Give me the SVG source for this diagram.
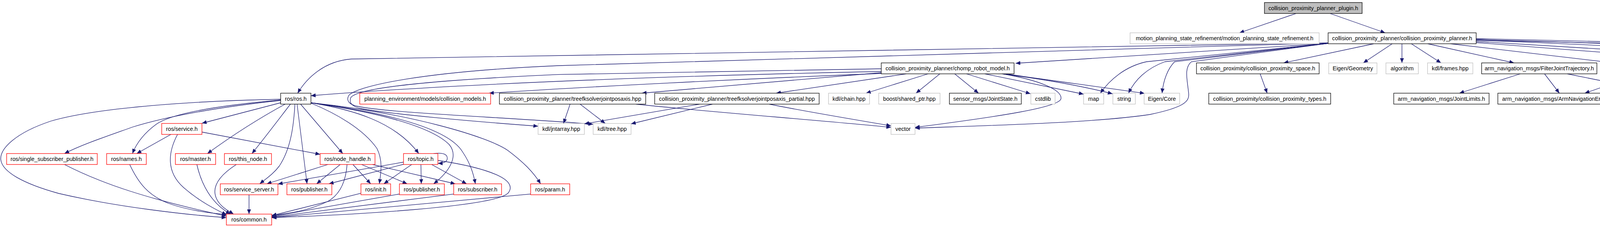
<svg xmlns="http://www.w3.org/2000/svg" width="5463" height="581" viewBox="0 0 5463 581">
<style>
.n rect{fill:#ffffff;stroke-width:1.3}
.b rect{stroke:#000000}
.g rect{stroke:#bfbfbf}
.r rect{stroke:#ff0000}
.root rect{fill:#bfbfbf;stroke:#000000}
.n text{font-family:"Liberation Sans",Arial,sans-serif;font-size:14.3px;fill:#000000;text-anchor:middle}
#edges path{fill:none;stroke:#191970;stroke-width:1.3;marker-end:url(#a)}
</style>
<defs>
<marker id="a" markerUnits="userSpaceOnUse" markerWidth="12" markerHeight="10" viewBox="0 0 12 10" refX="12" refY="5" orient="auto"><path d="M0,0 L12,5 L0,10 z" fill="#191970"/></marker>
</defs>
<rect width="5463" height="581" fill="#ffffff"/>
<g id="edges">
<path d="M3318,34.5 L3173,84"/>
<path d="M3405,34.5 L3546,84"/>
<path d="M3400,111 L2600,162"/>
<path d="M3400,110 L900,151 C830,156 785,200 762,238.5"/>
<path d="M3400,110 L1430,168 C1080,183 915,220 893,244 C885,258 895,268 915,272 C1000,290 1300,300 1518.5,318"/>
<path d="M2256,176 L1430,190.7 C1040,208 910,230 898,250 C892,265 905,274 925,278 C1000,292 1200,310 1377.5,323"/>
<path d="M2256,183 C1800,192 1200,212 796,245"/>
<path d="M2256,188 C1900,202 1500,222 1252,238.5"/>
<path d="M2256,186 L1643,238.5"/>
<path d="M2320,189 L1987,238.5"/>
<path d="M2376,189 L2217,238.5"/>
<path d="M2406,189 L2345,238.5"/>
<path d="M2444,189 L2505,238.5"/>
<path d="M2474,189 L2638,240"/>
<path d="M2521,189 L2774,241"/>
<path d="M2565,189 C2650,200 2750,215 2848,240"/>
<path d="M2575,189 C2680,205 2800,220 2930,239"/>
<path d="M2566,189 C2660,205 2720,230 2716,253 C2710,275 2560,298 2342.5,326"/>
<path d="M3400,111 L2935,158 C2880,170 2840,205 2817,238.5"/>
<path d="M3400,111 L2982,158 C2935,175 2905,205 2889,238.5"/>
<path d="M3400,111 L3007,158 C2990,175 2978,205 2975,238.5"/>
<path d="M3400,111 L3050,158 C3030,175 3040,205 3043,240 C3045,260 3030,275 2944,293 C2800,315 2500,322 2342.5,328"/>
<path d="M3517,112 L3286,161"/>
<path d="M3564,112 L3490,161"/>
<path d="M3589,112 L3589,161"/>
<path d="M3613,112 L3689,161"/>
<path d="M3655,112 L3876,161"/>
<path d="M3713,112 L4131,161"/>
<path d="M3779,106 L4140,128 C4300,140 4395,150 4400,172 C4405,195 4380,215 4350,238.5"/>
<path d="M3779,109 L4455,161"/>
<path d="M3779,103 L4140,111 C4500,130 4740,145 4755,172 C4765,195 4720,220 4676,238.5"/>
<path d="M3779,103 C4200,118 4600,145 4814.5,161"/>
<path d="M3779,101 C4300,115 4800,140 5070.5,161"/>
<path d="M3779,99 C4400,112 5100,135 5337,161"/>
<path d="M4200,189 L4057,238.5"/>
<path d="M4263,189 L4312,238.5"/>
<path d="M4319,189 L4566,238.5"/>
<path d="M3892,189 L3736,238.5"/>
<path d="M3954,189 L3992,238.5"/>
<path d="M4012,189 L4258,238.5"/>
<path d="M4546,189 L4377,238.5"/>
<path d="M4606,189 L4627,238.5"/>
<path d="M4323,266.5 L4318,316"/>
<path d="M4638,266.5 L4644,316"/>
<path d="M4930,189 L4930,238.5"/>
<path d="M3226,189 L3244,238.5"/>
<path d="M1459.5,266.5 L1442.5,316"/>
<path d="M1485,266.5 L1549.5,316"/>
<path d="M1628,266.5 C1800,285 2100,308 2281,326"/>
<path d="M1969,266.5 C2050,283 2180,305 2281,322"/>
<path d="M1791,266.5 L1496,317"/>
<path d="M1824,266.5 L1615.5,317"/>
<path d="M718.5,254 C500,258 250,275 130,310 C40,340 0,380 2,408 C5,440 60,470 150,495 C300,530 480,550 579.5,557"/>
<path d="M718.5,256 C560,270 440,290 400,318 C370,340 350,365 339,393"/>
<path d="M718.5,257 C550,275 420,300 340,325 C270,350 210,370 165,393"/>
<path d="M718.5,263 L517,315.5"/>
<path d="M730,266.5 C650,310 590,350 531,393"/>
<path d="M743.5,266.5 C710,310 680,350 645,393"/>
<path d="M755,266.5 C752,320 745,380 715,425 C700,445 680,458 665,470.5"/>
<path d="M760.5,266.5 L786,470.5"/>
<path d="M769.5,266.5 L877.5,393"/>
<path d="M796,264 C860,290 930,330 965,380 C980,410 976,440 971,470.5"/>
<path d="M796,263 C900,280 1010,310 1072,393"/>
<path d="M796,263 C950,285 1100,320 1150,370 C1175,400 1150,440 1110,470.5"/>
<path d="M796,263 C1000,290 1150,330 1185,390 C1205,420 1212,445 1217,470.5"/>
<path d="M796,263 C1050,290 1250,350 1300,385 C1340,415 1365,440 1384,470.5"/>
<path d="M437.5,344 L350,393"/>
<path d="M454.5,344 C430,390 425,440 470,480 C510,515 550,535 580,550"/>
<path d="M517,338 L819.5,395"/>
<path d="M165,421 C260,470 380,510 579.5,553"/>
<path d="M332,421 C355,470 380,500 430,520 C480,538 540,546 582,549"/>
<path d="M504,421 C515,470 540,520 590,548"/>
<path d="M605,421 C560,450 540,480 555,510 C565,530 585,540 598,548"/>
<path d="M637.5,498.5 L637.5,548"/>
<path d="M839.5,421 L683,470.5"/>
<path d="M1033,415 L711.5,471"/>
<path d="M871,421 L810.5,470.5"/>
<path d="M903.5,421 L949,470.5"/>
<path d="M925.5,421 L1042.5,470.5"/>
<path d="M953.5,421 L1165.5,470.5"/>
<path d="M888.5,421 C886,455 875,495 840,515 C790,540 730,548 695.5,551"/>
<path d="M1033,420.5 L842,470.5"/>
<path d="M1054,421 L982.5,470.5"/>
<path d="M1077.5,421 L1078.5,470.5"/>
<path d="M1105,421 L1194.5,470.5"/>
<path d="M1121,410.5 C1250,430 1330,460 1300,495 C1260,530 900,550 695.5,557"/>
<path d="M1110,393 C1135,390 1145,395 1145,405 C1145,415 1135,418 1121,418"/>
<path d="M924,494.6 L695.5,552"/>
<path d="M1022.5,496.6 L695.5,554"/>
<path d="M1161.5,496.6 L695.5,555.5"/>
<path d="M1358.5,496.6 L695.5,557"/>
</g>
<g id="root" class="n root"><rect x="3237" y="6.5" width="250" height="28"/><text x="3362" y="25.5">collision_proximity_planner_plugin.h</text></g>
<g id="mpsr" class="n g"><rect x="2893" y="84" width="484" height="28"/><text x="3135" y="103">motion_planning_state_refinement/motion_planning_state_refinement.h</text></g>
<g id="cpp" class="n b"><rect x="3400" y="84" width="379" height="28"/><text x="3589.5" y="103">collision_proximity_planner/collision_proximity_planner.h</text></g>
<g id="crm" class="n b"><rect x="2256" y="161" width="340" height="28"/><text x="2426" y="180">collision_proximity_planner/chomp_robot_model.h</text></g>
<g id="space" class="n b"><rect x="3063" y="161" width="314" height="28"/><text x="3220" y="180">collision_proximity/collision_proximity_space.h</text></g>
<g id="eigengeo" class="n g"><rect x="3401.5" y="161" width="123.5" height="28"/><text x="3463.25" y="180">Eigen/Geometry</text></g>
<g id="algorithm" class="n g"><rect x="3548" y="161" width="83" height="28"/><text x="3589.5" y="180">algorithm</text></g>
<g id="frames" class="n g"><rect x="3654.5" y="161" width="116" height="28"/><text x="3712.5" y="180">kdl/frames.hpp</text></g>
<g id="filter" class="n b"><rect x="3793" y="161" width="295" height="28"/><text x="3940.5" y="180">arm_navigation_msgs/FilterJointTrajectory.h</text></g>
<g id="getmp" class="n r"><rect x="4110" y="161" width="272" height="28"/><text x="4246" y="180">arm_navigation_msgs/GetMotionPlan.h</text></g>
<g id="display" class="n b"><rect x="4457" y="161" width="284" height="28"/><text x="4599" y="180">arm_navigation_msgs/DisplayTrajectory.h</text></g>
<g id="markerarray" class="n b"><rect x="4814.5" y="161" width="233.5" height="28"/><text x="4931.25" y="180">visualization_msgs/MarkerArray.h</text></g>
<g id="cubic" class="n r"><rect x="5070.5" y="161" width="242.5" height="28"/><text x="5191.75" y="180">spline_smoother/cubic_trajectory.h</text></g>
<g id="angles" class="n b"><rect x="5337" y="161" width="122" height="28"/><text x="5398" y="180">angles/angles.h</text></g>
<g id="rosh" class="n b"><rect x="718.5" y="238.5" width="77.5" height="28"/><text x="757.25" y="257.5">ros/ros.h</text></g>
<g id="colmodels" class="n r"><rect x="921" y="238.5" width="335" height="28"/><text x="1088.5" y="257.5">planning_environment/models/collision_models.h</text></g>
<g id="treefk" class="n b"><rect x="1278.5" y="238.5" width="374.5" height="28"/><text x="1465.75" y="257.5">collision_proximity_planner/treefksolverjointposaxis.hpp</text></g>
<g id="treefkp" class="n b"><rect x="1676" y="238.5" width="421" height="28"/><text x="1886.5" y="257.5">collision_proximity_planner/treefksolverjointposaxis_partial.hpp</text></g>
<g id="chain" class="n g"><rect x="2121" y="238.5" width="105" height="28"/><text x="2173.5" y="257.5">kdl/chain.hpp</text></g>
<g id="sharedptr" class="n g"><rect x="2249.5" y="238.5" width="157" height="28"/><text x="2328" y="257.5">boost/shared_ptr.hpp</text></g>
<g id="jointstate" class="n b"><rect x="2430.5" y="238.5" width="184" height="28"/><text x="2522.5" y="257.5">sensor_msgs/JointState.h</text></g>
<g id="cstdlib" class="n g"><rect x="2639" y="238.5" width="62" height="28"/><text x="2670" y="257.5">cstdlib</text></g>
<g id="map" class="n g"><rect x="2774" y="238.5" width="51.5" height="28"/><text x="2799.75" y="257.5">map</text></g>
<g id="string" class="n g"><rect x="2849" y="238.5" width="57.5" height="28"/><text x="2877.75" y="257.5">string</text></g>
<g id="eigencore" class="n g"><rect x="2929" y="238.5" width="91" height="28"/><text x="2974.5" y="257.5">Eigen/Core</text></g>
<g id="types" class="n b"><rect x="3094.5" y="238.5" width="312" height="28"/><text x="3250.5" y="257.5">collision_proximity/collision_proximity_types.h</text></g>
<g id="jointlimits" class="n b"><rect x="3568" y="238.5" width="244" height="28"/><text x="3690" y="257.5">arm_navigation_msgs/JointLimits.h</text></g>
<g id="errcodes" class="n b"><rect x="3834.5" y="238.5" width="344.5" height="28"/><text x="4006.75" y="257.5">arm_navigation_msgs/ArmNavigationErrorCodes.h</text></g>
<g id="robotstate" class="n b"><rect x="4202.5" y="238.5" width="249.5" height="28"/><text x="4327.25" y="257.5">arm_navigation_msgs/RobotState.h</text></g>
<g id="robottraj" class="n b"><rect x="4498.5" y="238.5" width="273.5" height="28"/><text x="4635.25" y="257.5">arm_navigation_msgs/RobotTrajectory.h</text></g>
<g id="marker" class="n b"><rect x="4830.5" y="238.5" width="200.5" height="28"/><text x="4930.75" y="257.5">visualization_msgs/Marker.h</text></g>
<g id="service" class="n r"><rect x="414" y="316" width="103" height="28"/><text x="465.5" y="335">ros/service.h</text></g>
<g id="jntarray" class="n g"><rect x="1377.5" y="316" width="118.5" height="28"/><text x="1436.75" y="335">kdl/jntarray.hpp</text></g>
<g id="tree" class="n g"><rect x="1518.5" y="316" width="97" height="28"/><text x="1567" y="335">kdl/tree.hpp</text></g>
<g id="vector" class="n g"><rect x="2281" y="316" width="61.5" height="28"/><text x="2311.75" y="335">vector</text></g>
<g id="mdofjs" class="n b"><rect x="4167" y="316" width="297" height="28"/><text x="4315.5" y="335">arm_navigation_msgs/MultiDOFJointState.h</text></g>
<g id="mdofjt" class="n r"><rect x="4486.5" y="316" width="321.5" height="28"/><text x="4647.25" y="335">arm_navigation_msgs/MultiDOFJointTrajectory.h</text></g>
<g id="ssp" class="n r"><rect x="17" y="393" width="232" height="28"/><text x="133" y="412">ros/single_subscriber_publisher.h</text></g>
<g id="names" class="n r"><rect x="273" y="393" width="101.5" height="28"/><text x="323.75" y="412">ros/names.h</text></g>
<g id="master" class="n r"><rect x="449" y="393" width="103" height="28"/><text x="500.5" y="412">ros/master.h</text></g>
<g id="thisnode" class="n r"><rect x="574.5" y="393" width="120.5" height="28"/><text x="634.75" y="412">ros/this_node.h</text></g>
<g id="nodehandle" class="n r"><rect x="819.5" y="393" width="140.5" height="28"/><text x="889.75" y="412">ros/node_handle.h</text></g>
<g id="topic" class="n r"><rect x="1033" y="393" width="88" height="28"/><text x="1077" y="412">ros/topic.h</text></g>
<g id="serviceserver" class="n r"><rect x="564" y="470.5" width="147.5" height="28"/><text x="637.75" y="489.5">ros/service_server.h</text></g>
<g id="pubA" class="n r"><rect x="734.5" y="470.5" width="115" height="28"/><text x="792" y="489.5">ros/publisher.h</text></g>
<g id="init" class="n r"><rect x="924" y="470.5" width="76" height="28"/><text x="962" y="489.5">ros/init.h</text></g>
<g id="pubB" class="n r"><rect x="1022.5" y="470.5" width="115" height="28"/><text x="1080" y="489.5">ros/publisher.h</text></g>
<g id="subscriber" class="n r"><rect x="1161.5" y="470.5" width="122.5" height="28"/><text x="1222.75" y="489.5">ros/subscriber.h</text></g>
<g id="param" class="n r"><rect x="1358.5" y="470.5" width="100" height="28"/><text x="1408.5" y="489.5">ros/param.h</text></g>
<g id="common" class="n r"><rect x="579.5" y="548" width="116" height="28"/><text x="637.5" y="567">ros/common.h</text></g>
</svg>
